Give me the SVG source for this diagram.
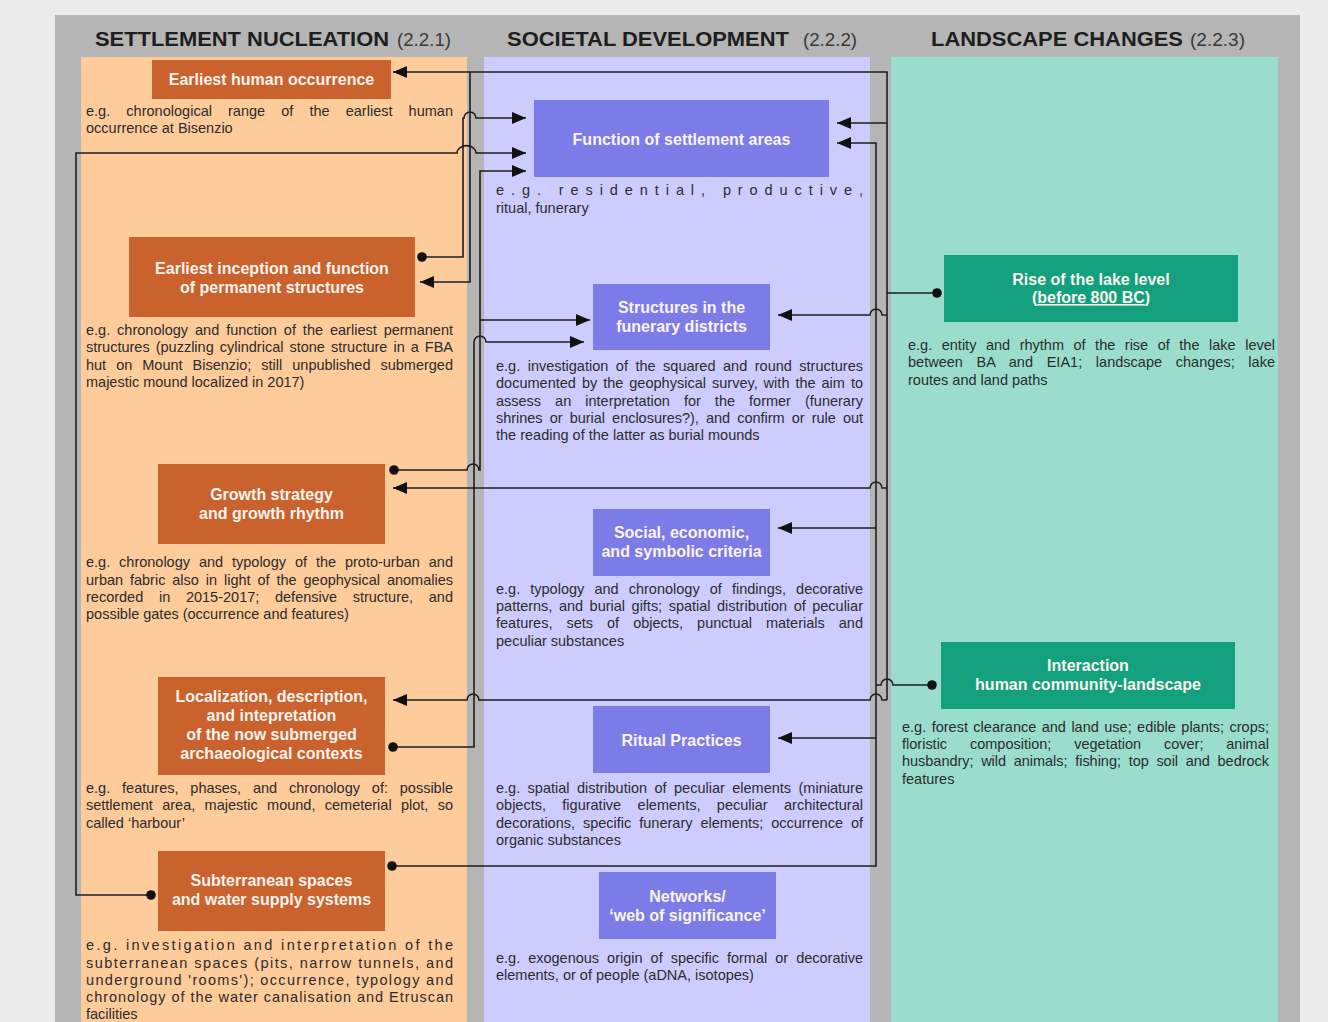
<svg xmlns="http://www.w3.org/2000/svg" width="1328" height="1022" viewBox="0 0 1328 1022">
<style>
.hd{font-family:"Liberation Sans",Arial,sans-serif;font-size:21px;font-weight:bold;fill:#1e1e1e}
.hn{font-family:"Liberation Sans",Arial,sans-serif;font-size:19px;fill:#3a3a3a}
.bt{font-family:"Liberation Sans",Arial,sans-serif;font-size:16px;font-weight:bold;fill:#fbf3ee;text-anchor:middle}
.ds{font-family:"Liberation Sans",Arial,sans-serif;font-size:14.5px;fill:#2c2c2c}
.ob{fill:#c9622d}
.pb{fill:#7c7ce8}
.tb{fill:#13a07c}
.ln{fill:none;stroke:#1e1e1e;stroke-width:1.6}
.dot{fill:#111}
</style>
<defs>
<marker id="ar" markerUnits="userSpaceOnUse" markerWidth="16" markerHeight="12" refX="14" refY="6" orient="auto">
<path d="M0,0 L14,6 L0,12 z" fill="#111"/>
</marker>
</defs>
<rect x="0" y="0" width="1328" height="1022" fill="#ececec"/>
<rect x="55" y="15" width="1245" height="1007" fill="#b5b5b5"/>
<rect x="81" y="57" width="386" height="965" fill="#fecb9b"/>
<rect x="484" y="57" width="386" height="965" fill="#ccccfe"/>
<rect x="891" y="57" width="387" height="965" fill="#9addcc"/>

<g id="headers">
<text x="95" y="46"><tspan class="hd" textLength="294" lengthAdjust="spacingAndGlyphs">SETTLEMENT NUCLEATION</tspan></text>
<text class="hn" x="397" y="46" textLength="54" lengthAdjust="spacingAndGlyphs">(2.2.1)</text>
<text x="507" y="46"><tspan class="hd" textLength="282" lengthAdjust="spacingAndGlyphs">SOCIETAL DEVELOPMENT</tspan></text>
<text class="hn" x="803" y="46" textLength="54" lengthAdjust="spacingAndGlyphs">(2.2.2)</text>
<text x="931" y="46"><tspan class="hd" textLength="252" lengthAdjust="spacingAndGlyphs">LANDSCAPE CHANGES</tspan></text>
<text class="hn" x="1190" y="46" textLength="55" lengthAdjust="spacingAndGlyphs">(2.2.3)</text>
</g>

<g id="connectors">
<path class="ln" d="M937,293 H887"/>
<path class="ln" d="M887,700 V72 H470 V282 H420" marker-end="url(#ar)"/>
<path class="ln" d="M470,72 H393" marker-end="url(#ar)"/>
<path class="ln" d="M887,123 H837" marker-end="url(#ar)"/>
<path class="ln" d="M887,315 H882 a6,6 0 0 0 -12,0 H778" marker-end="url(#ar)"/>
<path class="ln" d="M887,488 H882 a6,6 0 0 0 -12,0 H393" marker-end="url(#ar)"/>
<path class="ln" d="M887,700 H882 a6,6 0 0 0 -12,0 H479 a6,6 0 0 0 -12,0 H393" marker-end="url(#ar)"/>
<path class="ln" d="M392,866 H876 V143 H837" marker-end="url(#ar)"/>
<path class="ln" d="M876,528 H778" marker-end="url(#ar)"/>
<path class="ln" d="M876,738 H778" marker-end="url(#ar)"/>
<path class="ln" d="M932,685 H893 a6,6 0 0 0 -12,0 H876"/>
<path class="ln" d="M422,257 H463 V118 H464 a6,6 0 0 1 12,0 H526" marker-end="url(#ar)"/>
<path class="ln" d="M151,895 H76 V153 H457 a9,7 0 0 1 19,0 H526" marker-end="url(#ar)"/>
<path class="ln" d="M394,470 H467 a6,6 0 0 1 12,0 H480 V171 H526" marker-end="url(#ar)"/>
<path class="ln" d="M480,320 H590" marker-end="url(#ar)"/>
<path class="ln" d="M393,747 H474 V342 a6,6 0 0 1 12,0 H584" marker-end="url(#ar)"/>
<circle class="dot" cx="937" cy="293" r="4.8"/>
<circle class="dot" cx="932" cy="685" r="4.8"/>
<circle class="dot" cx="392" cy="866" r="4.8"/>
<circle class="dot" cx="151" cy="895" r="4.8"/>
<circle class="dot" cx="422" cy="257" r="4.8"/>
<circle class="dot" cx="394" cy="470" r="4.8"/>
<circle class="dot" cx="393" cy="747" r="4.8"/>
</g>

<g id="earliest-human">
<rect class="ob" x="152" y="60" width="239" height="39"/>
<text class="bt" x="271.5" y="85">Earliest human occurrence</text>
<text class="ds" x="86" y="116" style="word-spacing:12px" textLength="367" lengthAdjust="spacing">e.g. chronological range of the earliest human</text>
<text class="ds" x="86" y="133">occurrence at Bisenzio</text>
</g>

<g id="earliest-inception">
<rect class="ob" x="129" y="237" width="286" height="80"/>
<text class="bt" x="272" y="274">Earliest inception and function</text>
<text class="bt" x="272" y="293">of permanent structures</text>
<text class="ds" x="86" y="335" style="word-spacing:2.9px" textLength="367" lengthAdjust="spacing">e.g. chronology and function of the earliest permanent</text>
<text class="ds" x="86" y="352" style="word-spacing:2px" textLength="367" lengthAdjust="spacing">structures (puzzling cylindrical stone structure in a FBA</text>
<text class="ds" x="86" y="370" style="word-spacing:6px" textLength="367" lengthAdjust="spacing">hut on Mount Bisenzio; still unpublished submerged</text>
<text class="ds" x="86" y="387">majestic mound localized in 2017)</text>
</g>

<g id="growth-strategy">
<rect class="ob" x="158" y="464" width="227" height="80"/>
<text class="bt" x="271.5" y="500">Growth strategy</text>
<text class="bt" x="271.5" y="519">and growth rhythm</text>
<text class="ds" x="86" y="567" style="word-spacing:4.9px" textLength="367" lengthAdjust="spacing">e.g. chronology and typology of the proto-urban and</text>
<text class="ds" x="86" y="585" style="word-spacing:2.9px" textLength="367" lengthAdjust="spacing">urban fabric also in light of the geophysical anomalies</text>
<text class="ds" x="86" y="602" style="word-spacing:11.7px" textLength="367" lengthAdjust="spacing">recorded in 2015-2017; defensive structure, and</text>
<text class="ds" x="86" y="619">possible gates (occurrence and features)</text>
</g>

<g id="localization">
<rect class="ob" x="158" y="677" width="227" height="98"/>
<text class="bt" x="271.5" y="702">Localization, description,</text>
<text class="bt" x="271.5" y="721">and intepretation</text>
<text class="bt" x="271.5" y="740">of the now submerged</text>
<text class="bt" x="271.5" y="759">archaeological contexts</text>
<text class="ds" x="86" y="793" style="word-spacing:7.8px" textLength="367" lengthAdjust="spacing">e.g. features, phases, and chronology of: possible</text>
<text class="ds" x="86" y="810" style="word-spacing:5.3px" textLength="367" lengthAdjust="spacing">settlement area, majestic mound, cemeterial plot, so</text>
<text class="ds" x="86" y="828">called ‘harbour’</text>
</g>

<g id="subterranean">
<rect class="ob" x="158" y="851" width="227" height="80"/>
<text class="bt" x="271.5" y="886">Subterranean spaces</text>
<text class="bt" x="271.5" y="905">and water supply systems</text>
<text class="ds" x="86" y="950" textLength="367" lengthAdjust="spacing">e.g. investigation and interpretation of the</text>
<text class="ds" x="86" y="968" textLength="367" lengthAdjust="spacing">subterranean spaces (pits, narrow tunnels, and</text>
<text class="ds" x="86" y="985" textLength="367" lengthAdjust="spacing">underground 'rooms'); occurrence, typology and</text>
<text class="ds" x="86" y="1002" textLength="367" lengthAdjust="spacing">chronology of the water canalisation and Etruscan</text>
<text class="ds" x="86" y="1019">facilities</text>
</g>

<g id="function-settlement">
<rect class="pb" x="534" y="100" width="295" height="77"/>
<text class="bt" x="681.5" y="145">Function of settlement areas</text>
<text class="ds" x="496" y="195" textLength="367" lengthAdjust="spacing">e.g. residential, productive,</text>
<text class="ds" x="496" y="213">ritual, funerary</text>
</g>

<g id="structures-funerary">
<rect class="pb" x="593" y="284" width="177" height="66"/>
<text class="bt" x="681.5" y="313">Structures in the</text>
<text class="bt" x="681.5" y="332">funerary districts</text>
<text class="ds" x="496" y="371" style="word-spacing:3.5px" textLength="367" lengthAdjust="spacing">e.g. investigation of the squared and round structures</text>
<text class="ds" x="496" y="388" style="word-spacing:1.9px" textLength="367" lengthAdjust="spacing">documented by the geophysical survey, with the aim to</text>
<text class="ds" x="496" y="406" style="word-spacing:10px" textLength="367" lengthAdjust="spacing">assess an interpretation for the former (funerary</text>
<text class="ds" x="496" y="423" style="word-spacing:3.1px" textLength="367" lengthAdjust="spacing">shrines or burial enclosures?), and confirm or rule out</text>
<text class="ds" x="496" y="440">the reading of the latter as burial mounds</text>
</g>

<g id="social-criteria">
<rect class="pb" x="593" y="509" width="177" height="67"/>
<text class="bt" x="681.5" y="538">Social, economic,</text>
<text class="bt" x="681.5" y="557">and symbolic criteria</text>
<text class="ds" x="496" y="594" style="word-spacing:6.1px" textLength="367" lengthAdjust="spacing">e.g. typology and chronology of findings, decorative</text>
<text class="ds" x="496" y="611" style="word-spacing:2.5px" textLength="367" lengthAdjust="spacing">patterns, and burial gifts; spatial distribution of peculiar</text>
<text class="ds" x="496" y="628" style="word-spacing:10px" textLength="367" lengthAdjust="spacing">features, sets of objects, punctual materials and</text>
<text class="ds" x="496" y="646">peculiar substances</text>
</g>

<g id="ritual-practices">
<rect class="pb" x="593" y="706" width="177" height="67"/>
<text class="bt" x="681.5" y="746">Ritual Practices</text>
<text class="ds" x="496" y="793" style="word-spacing:3.4px" textLength="367" lengthAdjust="spacing">e.g. spatial distribution of peculiar elements (miniature</text>
<text class="ds" x="496" y="810" style="word-spacing:12.4px" textLength="367" lengthAdjust="spacing">objects, figurative elements, peculiar architectural</text>
<text class="ds" x="496" y="828" style="word-spacing:3.9px" textLength="367" lengthAdjust="spacing">decorations, specific funerary elements; occurrence of</text>
<text class="ds" x="496" y="845">organic substances</text>
</g>

<g id="networks">
<rect class="pb" x="599" y="872" width="177" height="67"/>
<text class="bt" x="687.5" y="902">Networks/</text>
<text class="bt" x="687.5" y="921">‘web of significance’</text>
<text class="ds" x="496" y="963" style="word-spacing:4px" textLength="367" lengthAdjust="spacing">e.g. exogenous origin of specific formal or decorative</text>
<text class="ds" x="496" y="980">elements, or of people (aDNA, isotopes)</text>
</g>

<g id="lake-level">
<rect class="tb" x="944" y="255" width="294" height="67"/>
<text class="bt" x="1091" y="285">Rise of the lake level</text>
<text class="bt" x="1091" y="303">(<tspan text-decoration="underline">before 800 BC</tspan>)</text>
<text class="ds" x="908" y="350" style="word-spacing:5.5px" textLength="367" lengthAdjust="spacing">e.g. entity and rhythm of the rise of the lake level</text>
<text class="ds" x="908" y="367" style="word-spacing:9.6px" textLength="367" lengthAdjust="spacing">between BA and EIA1; landscape changes; lake</text>
<text class="ds" x="908" y="385">routes and land paths</text>
</g>

<g id="interaction">
<rect class="tb" x="941" y="642" width="294" height="67"/>
<text class="bt" x="1088" y="671">Interaction</text>
<text class="bt" x="1088" y="690">human community-landscape</text>
<text class="ds" x="902" y="732" style="word-spacing:1.4px" textLength="367" lengthAdjust="spacing">e.g. forest clearance and land use; edible plants; crops;</text>
<text class="ds" x="902" y="749" style="word-spacing:18.8px" textLength="367" lengthAdjust="spacing">floristic composition; vegetation cover; animal</text>
<text class="ds" x="902" y="766" style="word-spacing:3.7px" textLength="367" lengthAdjust="spacing">husbandry; wild animals; fishing; top soil and bedrock</text>
<text class="ds" x="902" y="784">features</text>
</g>
</svg>
